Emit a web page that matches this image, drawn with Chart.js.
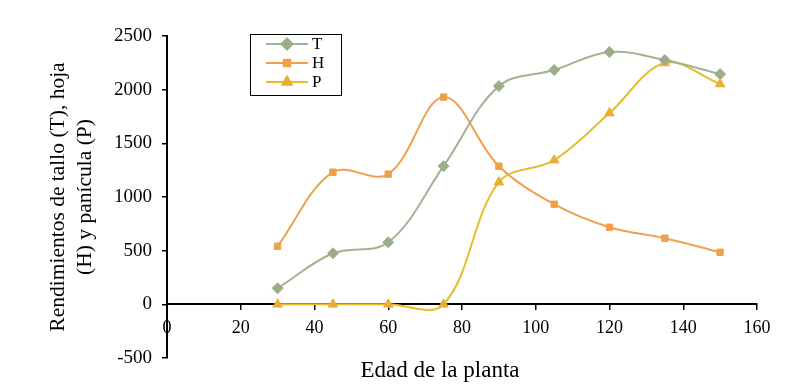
<!DOCTYPE html>
<html>
<head>
<meta charset="utf-8">
<script src="https://cdn.jsdelivr.net/npm/chart.js@4.4.1/dist/chart.umd.min.js"></script>
<style>
  html, body { margin: 0; padding: 0; background: #fff; }
  #wrap { width: 812px; height: 392px; }
</style>
</head>
<body>
<div id="wrap"><canvas id="chart"></canvas></div>
<script>
// data
const ages = [30, 45, 60, 75, 90, 105, 120, 135, 150];
const tallo = [150, 476, 578, 1287, 2033, 2183, 2350, 2276, 2145];
const hoja = [541, 1231, 1213, 1931, 1287, 933, 718, 616, 485];
const panicula = [0, 0, 0, 0, 1138, 1343, 1782, 2248, 2052];
const seriesNames = ["T", "H", "P"];
const yTitle = ["Rendimientos de tallo (T), hoja", "(H) y panícula (P)"];
const xTitle = "Edad de la planta";

const FONT = "'Liberation Serif', 'Times New Roman', serif";

function toPoints(vals) {
  return ages.map((a, i) => ({ x: a, y: vals[i] }));
}

// legend box drawn inside the plot, like the original
const boxLegend = {
  id: "boxLegend",
  afterDraw(chart) {
    const ctx = chart.ctx;
    ctx.save();
    ctx.strokeStyle = "#000";
    ctx.lineWidth = 1;
    ctx.strokeRect(250.5, 34.5, 91, 61);
    chart.data.datasets.forEach((ds, i) => {
      const y = 44 + i * 19;
      ctx.strokeStyle = ds.borderColor;
      ctx.lineWidth = 2;
      ctx.beginPath();
      ctx.moveTo(266, y);
      ctx.lineTo(308, y);
      ctx.stroke();
      ctx.fillStyle = ds.pointBackgroundColor;
      ctx.strokeStyle = ds.pointBackgroundColor;
      Chart.helpers.drawPoint(ctx, {
        pointStyle: ds.pointStyle, radius: ds.pointRadius, rotation: 0, borderWidth: 1
      }, 287, y);
      ctx.fillStyle = "#000";
      ctx.font = "17px " + FONT;
      ctx.textBaseline = "middle";
      ctx.textAlign = "left";
      ctx.fillText(ds.label, 312, y + 1);
    });
    ctx.restore();
  }
};

// x title sits below the plot, not next to the axis line at y = 0
const bottomTitle = {
  id: "bottomTitle",
  afterDraw(chart) {
    const ctx = chart.ctx;
    const a = chart.chartArea;
    ctx.save();
    ctx.fillStyle = "#000";
    ctx.font = "23px " + FONT;
    ctx.textAlign = "center";
    ctx.textBaseline = "middle";
    ctx.fillText(xTitle, (a.left + a.right) / 2 - 22, 371);
    ctx.restore();
  }
};

new Chart(document.getElementById("chart"), {
  type: "line",
  data: {
    datasets: [
      {
        label: seriesNames[0],
        data: toPoints(tallo),
        borderColor: "#A3B391",
        pointBackgroundColor: "#9BAE88",
        pointBorderColor: "#9BAE88",
        pointStyle: "rectRot",
        pointRadius: 5.5
      },
      {
        label: seriesNames[1],
        data: toPoints(hoja),
        borderColor: "#F0A150",
        pointBackgroundColor: "#EFA048",
        pointBorderColor: "#EFA048",
        pointStyle: "rect",
        pointRadius: 4.5
      },
      {
        label: seriesNames[2],
        data: toPoints(panicula),
        borderColor: "#E6BC2F",
        pointBackgroundColor: "#E8AF33",
        pointBorderColor: "#E8AF33",
        pointStyle: "triangle",
        pointRadius: 5.5
      }
    ]
  },
  options: {
    responsive: true,
    maintainAspectRatio: false,
    animation: false,
    layout: { padding: { top: 36, right: 55, bottom: 34, left: 0 } },
    elements: {
      line: { borderWidth: 2, tension: 0.36, fill: false },
      point: { borderWidth: 1 }
    },
    scales: {
      x: {
        type: "linear",
        position: { y: 0 },
        min: 0,
        max: 160,
        border: { display: true, color: "#000", width: 2 },
        grid: { display: true, drawOnChartArea: false, drawTicks: true, tickLength: 5, color: "#000", lineWidth: 1.5 },
        ticks: {
          stepSize: 20, color: "#000", font: { family: FONT, size: 18 }, padding: 8, maxRotation: 0,
          callback: v => String(v)
        }
      },
      y: {
        min: -500,
        max: 2500,
        afterFit: s => { s.width = 167; },
        border: { display: true, color: "#000", width: 2 },
        grid: { display: true, drawOnChartArea: false, drawTicks: true, tickLength: 5, color: "#000", lineWidth: 1.5 },
        ticks: {
          stepSize: 500, color: "#000", font: { family: FONT, size: 19 }, padding: 10,
          callback: v => String(v)
        },
        title: {
          display: true,
          text: yTitle,
          color: "#000",
          font: { family: FONT, size: 21.5, lineHeight: 1.25 },
          padding: { top: 45, bottom: 0 }
        }
      }
    },
    plugins: {
      legend: { display: false },
      tooltip: { enabled: false }
    }
  },
  plugins: [boxLegend, bottomTitle]
});
</script>
</body>
</html>
